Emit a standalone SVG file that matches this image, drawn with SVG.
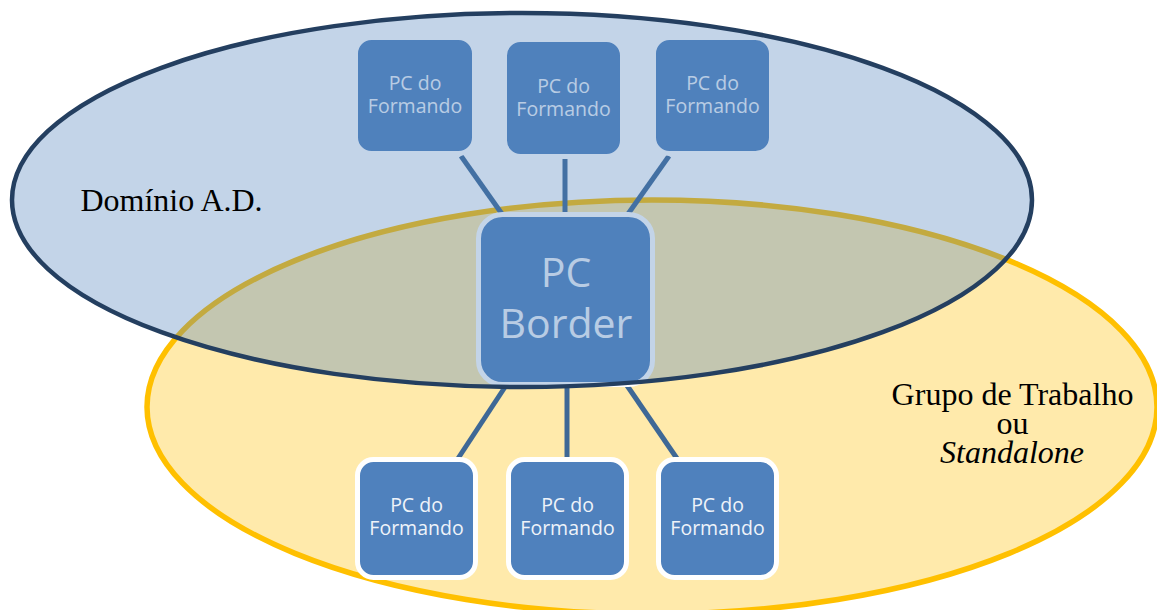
<svg xmlns="http://www.w3.org/2000/svg" width="1157" height="610" viewBox="0 0 1157 610">
  <style>
    .pc { fill: #4f81bd; stroke: #ffffff; stroke-width: 5; }
    .pc-text { font-family: "Open Sans", "Liberation Sans", sans-serif; fill: #eef3f9; text-anchor: middle; }
    .small { font-size: 19.5px; }
    .big { font-size: 41px; }
    .link { stroke: #3e6896; stroke-width: 5; fill: none; }
    .label { font-family: "Liberation Serif", "Times New Roman", serif; font-size: 32px; fill: #000000; text-anchor: middle; }
  </style>

  <!-- Workgroup / standalone zone (drawn beneath everything) -->
  <g id="workgroup-zone">
    <ellipse cx="652" cy="407" rx="505" ry="207" fill="#ffc000" fill-opacity="0.33" stroke="#ffc000" stroke-width="5.5"/>
  </g>

  <!-- Links between the border PC and the trainee PCs -->
  <g id="connectors">
    <line class="link" x1="461" y1="156" x2="502" y2="214"/>
    <line class="link" x1="565" y1="158" x2="565" y2="214"/>
    <line class="link" x1="669" y1="156" x2="628" y2="214"/>
    <line class="link" x1="507" y1="384" x2="457" y2="460"/>
    <line class="link" x1="567" y1="384" x2="567" y2="460"/>
    <line class="link" x1="626" y1="384" x2="678" y2="460"/>
  </g>

  <g id="pc-top-1">
    <rect class="pc" x="355.5" y="37.5" width="119" height="116" rx="16"/>
    <text class="pc-text small" x="415" y="90">PC do</text>
    <text class="pc-text small" x="415" y="113">Formando</text>
  </g>
  <g id="pc-top-2">
    <rect class="pc" x="504.5" y="39.5" width="118" height="117" rx="16"/>
    <text class="pc-text small" x="563.5" y="92.5">PC do</text>
    <text class="pc-text small" x="563.5" y="115.5">Formando</text>
  </g>
  <g id="pc-top-3">
    <rect class="pc" x="653.5" y="37.5" width="118" height="116" rx="16"/>
    <text class="pc-text small" x="712.5" y="90">PC do</text>
    <text class="pc-text small" x="712.5" y="113">Formando</text>
  </g>

  <g id="pc-border">
    <rect class="pc" x="478.5" y="214.5" width="174" height="170" rx="24"/>
    <text class="pc-text big" x="566" y="287">PC</text>
    <text class="pc-text big" x="566" y="338">Border</text>
  </g>

  <g id="pc-bottom-1">
    <rect class="pc" x="357.5" y="459.5" width="118" height="118" rx="16"/>
    <text class="pc-text small" x="416.5" y="511.5">PC do</text>
    <text class="pc-text small" x="416.5" y="535">Formando</text>
  </g>
  <g id="pc-bottom-2">
    <rect class="pc" x="508.5" y="459.5" width="118" height="118" rx="16"/>
    <text class="pc-text small" x="567.5" y="511.5">PC do</text>
    <text class="pc-text small" x="567.5" y="535">Formando</text>
  </g>
  <g id="pc-bottom-3">
    <rect class="pc" x="658.5" y="459.5" width="118" height="118" rx="16"/>
    <text class="pc-text small" x="717.5" y="511.5">PC do</text>
    <text class="pc-text small" x="717.5" y="535">Formando</text>
  </g>

  <!-- Active Directory domain: translucent layer over the upper machines -->
  <g id="domain-zone">
    <ellipse cx="522" cy="200" rx="510" ry="187" fill="#4f81bd" fill-opacity="0.34" stroke="#243f60" stroke-width="4.5"/>
  </g>

  <g id="labels">
    <text class="label" x="171.5" y="211">Domínio A.D.</text>
    <text class="label" x="1012.5" y="405">Grupo de Trabalho</text>
    <text class="label" x="1012.5" y="434">ou</text>
    <text class="label" x="1012" y="463" font-style="italic">Standalone</text>
  </g>
</svg>
